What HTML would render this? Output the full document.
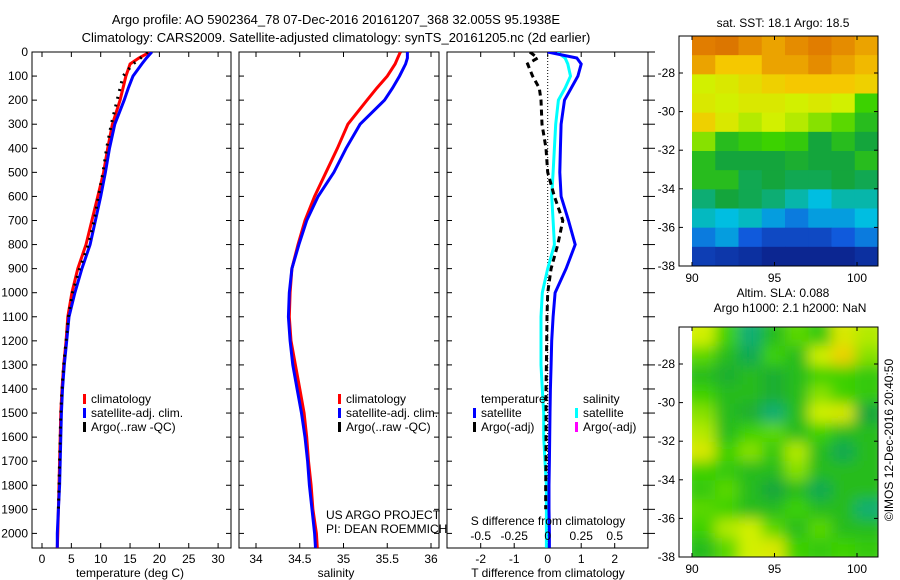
<!DOCTYPE html>
<html><head><meta charset="utf-8"><style>
html,body{margin:0;padding:0;background:#fff;}
svg{display:block;font-family:"Liberation Sans",sans-serif;}
</style></head><body>
<svg id="fig" width="900" height="580" viewBox="0 0 900 580">
<defs>
<filter id="blur" x="0" y="0" width="1" height="1"><feGaussianBlur stdDeviation="7"/></filter>
<clipPath id="clipBot"><rect x="692" y="327" width="186" height="230"/></clipPath>
<clipPath id="p1"><rect x="32" y="52" width="199" height="496"/></clipPath>
<clipPath id="p2"><rect x="239" y="52" width="200" height="496"/></clipPath>
<clipPath id="p3"><rect x="447" y="52" width="201" height="496"/></clipPath>
</defs>
<text x="336" y="24" font-size="13" text-anchor="middle">Argo profile: AO 5902364_78 07-Dec-2016 20161207_368 32.005S 95.1938E</text>
<text x="336" y="42" font-size="13" text-anchor="middle">Climatology: CARS2009. Satellite-adjusted climatology: synTS_20161205.nc (2d earlier)</text>
<g id="g1"></g>
<g id="g2"></g>
<g id="g3"></g>
<g id="m1"></g>
<g id="m2"></g>
</svg>
<script>
const depths=[0,25,50,100,150,200,300,400,500,600,700,800,900,1000,1100,1200,1300,1400,1500,1600,1700,1800,1900,2000,2060];
const tempClim=[18.4,16.5,15,14.3,13.8,13.3,12,11.2,10.5,9.5,8.5,7.5,6.1,5.1,4.4,4.1,3.7,3.4,3.2,3.1,3.0,2.9,2.8,2.7,2.6];
const tempSat=[18.7,17.8,17,15.5,14.7,14,12.4,11.5,10.8,10,9.1,8.2,6.8,5.6,4.6,4.2,3.8,3.5,3.3,3.2,3.1,3.0,2.8,2.6,2.6];
const tempArgo=[18,16.8,15.5,13.8,13.3,12.8,11.8,11,10.4,9.6,8.9,7.9,6.4,5.2,4.5,4.1,3.7,3.4,3.2,3.1,3.0,2.9,2.8,null,null];
const salClim=[35.65,35.62,35.59,35.5,35.38,35.27,35.05,34.93,34.8,34.67,34.56,34.48,34.41,34.39,34.38,34.4,34.45,34.5,34.55,34.58,34.6,34.63,34.65,34.69,34.7];
const salSat=[35.73,35.73,35.71,35.64,35.56,35.47,35.19,35.03,34.89,34.71,34.58,34.49,34.41,34.38,34.37,34.39,34.42,34.47,34.52,34.56,34.59,34.61,34.64,34.67,34.68];
const tDiffSat=[0,0.87,1.0,0.9,0.7,0.5,0.4,0.38,0.36,0.4,0.62,0.82,0.55,0.22,0.16,0.12,0.1,0.08,0.07,0.06,0.05,0.04,0.04,0.05,0.05];
const sDiffSat=[0.07,0.13,0.15,0.17,0.13,0.08,0.06,0.05,0.04,0.03,0.04,0.05,0.0,-0.04,-0.05,-0.05,-0.05,-0.04,-0.03,-0.03,-0.02,-0.01,-0.01,-0.01,-0.01];
const tDiffArgo=[-0.53,-0.3,-0.6,-0.45,-0.25,-0.2,-0.17,-0.05,0.0,0.2,0.45,0.3,0.1,0.0,-0.02,-0.03,-0.04,-0.05,-0.05,-0.05,-0.05,-0.06,-0.06,null,null];
const depthTicks=[0,100,200,300,400,500,600,700,800,900,1000,1100,1200,1300,1400,1500,1600,1700,1800,1900,2000];
const tempTicks=[0,5,10,15,20,25,30];
const salTicks=[34,34.5,35,35.5,36];
const tDiffTicks=[-2,-1,0,1,2];
const sDiffTicks=[-0.5,-0.25,0,0.25,0.5];
const sstGrid=[
[0.9,0.92,0.88,0.85,0.88,0.9,0.88,0.85],
[0.85,0.8,0.8,0.85,0.85,0.88,0.85,0.82],
[0.7,0.72,0.75,0.78,0.8,0.8,0.8,0.78],
[0.72,0.7,0.72,0.72,0.7,0.72,0.7,0.6],
[0.78,0.72,0.68,0.7,0.68,0.65,0.62,0.55],
[0.65,0.55,0.58,0.6,0.58,0.5,0.55,0.5],
[0.55,0.5,0.5,0.5,0.52,0.5,0.5,0.55],
[0.55,0.55,0.48,0.5,0.48,0.48,0.5,0.48],
[0.45,0.5,0.48,0.45,0.4,0.35,0.4,0.4],
[0.38,0.35,0.38,0.3,0.25,0.3,0.3,0.35],
[0.25,0.3,0.2,0.15,0.15,0.15,0.2,0.25],
[0.12,0.1,0.08,0.05,0.05,0.05,0.05,0.08]];
const slaGrid=[
[0.7,0.6,0.45,0.55,0.62,0.58,0.72,0.68],
[0.62,0.55,0.48,0.6,0.55,0.7,0.78,0.65],
[0.55,0.52,0.55,0.52,0.55,0.6,0.6,0.58],
[0.6,0.55,0.55,0.52,0.55,0.65,0.6,0.58],
[0.65,0.55,0.52,0.45,0.55,0.7,0.72,0.5],
[0.68,0.55,0.6,0.62,0.55,0.6,0.55,0.55],
[0.72,0.6,0.65,0.58,0.68,0.55,0.48,0.55],
[0.6,0.58,0.55,0.55,0.65,0.55,0.55,0.55],
[0.58,0.62,0.55,0.5,0.55,0.48,0.55,0.55],
[0.62,0.6,0.55,0.55,0.6,0.55,0.55,0.45],
[0.6,0.68,0.7,0.62,0.55,0.62,0.55,0.55],
[0.55,0.62,0.7,0.72,0.6,0.58,0.6,0.58]];
const lonTicks=[90,95,100];
const latTicks=[-28,-30,-32,-34,-36,-38];

const NS='http://www.w3.org/2000/svg';
function mk(parent,tag,attrs,text){const e=document.createElementNS(NS,tag);for(const k in attrs)e.setAttribute(k,attrs[k]);if(text!==undefined)e.textContent=text;parent.appendChild(e);return e;}
const yD=d=>52+d*0.2407;
const xT=v=>42+v*5.87;
const xS=v=>256+(v-34)*87.5;
const xTd=v=>547.7+v*33.5;
const xSd=v=>547.7+v*134;

function frame(g,x0,x1,clip){
  const r=mk(g,'rect',{x:x0,y:52,width:x1-x0,height:496,fill:'#fff',stroke:'#000','stroke-width':1});
  
  depthTicks.forEach(d=>{
    mk(g,'line',{x1:x0,x2:x0+5,y1:yD(d),y2:yD(d),stroke:'#000'});
    mk(g,'line',{x1:x1,x2:x1-5,y1:yD(d),y2:yD(d),stroke:'#000'});
  });
}
function line(g,xs,vals,color,dash,clip,name){
  let d='';let pen=false;
  vals.forEach((v,i)=>{if(v===null){pen=false;return;}d+=(pen?'L':'M')+xs(v).toFixed(1)+','+yD(depths[i]).toFixed(1);pen=true;});
  const p=mk(g,'path',{d:d,fill:'none',stroke:color,'stroke-width':3,'clip-path':'url(#'+clip+')'});
  if(dash)p.setAttribute('stroke-dasharray',dash);
  
  
}
function xaxis(g,ticks,xs,fmt,y){
  ticks.forEach(t=>{mk(g,'line',{x1:xs(t),x2:xs(t),y1:548,y2:543,stroke:'#000'});mk(g,'line',{x1:xs(t),x2:xs(t),y1:52,y2:57,stroke:'#000'});
    const tx=mk(g,'text',{x:xs(t),y:y,'font-size':12,'text-anchor':'middle'},fmt(t));
    });
}
function legendItem(g,x,y,color,label){
  mk(g,'rect',{x:x,y:y-9,width:3,height:10,fill:color});
  const t=mk(g,'text',{x:x+8,y:y,'font-size':12},label);
  
}
// Panel 1
const g1=document.getElementById('g1');
frame(g1,32,231);
depthTicks.forEach(d=>{const t=mk(g1,'text',{x:28,y:yD(d)+4,'font-size':12,'text-anchor':'end'},String(d));});
xaxis(g1,tempTicks,xT,String,563);
line(g1,xT,tempClim,'#f00',null,'p1','temp-climatology-line');
line(g1,xT,tempSat,'#00f',null,'p1','temp-satellite-line');
line(g1,xT,tempArgo,'#000','2,6','p1','temp-argo-line');
let t1=mk(g1,'text',{x:130,y:577,'font-size':12,'text-anchor':'middle'},'temperature (deg C)');
legendItem(g1,83,403,'#f00','climatology');legendItem(g1,83,417,'#00f','satellite-adj. clim.');legendItem(g1,83,431,'#000','Argo(..raw -QC)');
// Panel 2
const g2=document.getElementById('g2');
frame(g2,239,439);
xaxis(g2,salTicks,xS,String,563);
line(g2,xS,salClim,'#f00',null,'p2','sal-climatology-line');
line(g2,xS,salSat,'#00f',null,'p2','sal-satellite-line');
let t2=mk(g2,'text',{x:336,y:577,'font-size':12,'text-anchor':'middle'},'salinity');
legendItem(g2,338,403,'#f00','climatology');legendItem(g2,338,417,'#00f','satellite-adj. clim.');legendItem(g2,338,431,'#000','Argo(..raw -QC)');
let c1=mk(g2,'text',{x:326,y:519,'font-size':12},'US ARGO PROJECT');
let c2=mk(g2,'text',{x:326,y:533,'font-size':12},'PI: DEAN ROEMMICH');
// Panel 3
const g3=document.getElementById('g3');
frame(g3,447,648);
depthTicks.forEach(d=>mk(g3,'line',{x1:648,x2:655,y1:yD(d),y2:yD(d),stroke:'#000'}));
xaxis(g3,tDiffTicks,xTd,String,563);
mk(g3,'line',{x1:547.7,x2:547.7,y1:52,y2:548,stroke:'#000','stroke-dasharray':'1,2'});
line(g3,xSd,sDiffSat,'#0ff',null,'p3','sal-diff-satellite-line');
line(g3,xTd,tDiffSat,'#00f',null,'p3','temp-diff-satellite-line');
line(g3,xTd,tDiffArgo,'#000','6,4','p3','temp-diff-argo-line');
sDiffTicks.forEach(t=>{const tx=mk(g3,'text',{x:xSd(t),y:540,'font-size':12,'text-anchor':'middle'},String(t));});
let t3=mk(g3,'text',{x:548,y:525,'font-size':12,'text-anchor':'middle'},'S difference from climatology');
let t4=mk(g3,'text',{x:548,y:577,'font-size':12,'text-anchor':'middle'},'T difference from climatology');
let l1=mk(g3,'text',{x:481,y:403,'font-size':12},'temperature');
let l2=mk(g3,'text',{x:583,y:403,'font-size':12},'salinity');
legendItem(g3,473,417,'#00f','satellite');legendItem(g3,473,431,'#000','Argo(-adj)');
legendItem(g3,575,417,'#0ff','satellite');legendItem(g3,575,431,'#f0f','Argo(-adj)');
// Maps
const stops=[[0,[10,20,120]],[0.2,[16,90,220]],[0.35,[0,190,225]],[0.5,[20,165,60]],[0.6,[60,210,0]],[0.7,[210,240,0]],[0.8,[245,200,0]],[0.9,[225,125,0]],[1,[200,90,0]]];
function cmap(v){for(let i=1;i<stops.length;i++){if(v<=stops[i][0]){const a=stops[i-1],b=stops[i];const f=(v-a[0])/(b[0]-a[0]);return 'rgb('+a[1].map((c,j)=>Math.round(c+(b[1][j]-c)*f)).join(',')+')';}}return 'rgb(200,90,0)';}
function map(gid,top,grid,blur,title1,title2){
  const g=document.getElementById(gid);
  const bot=top+230; const lx=v=>692+(v-90)*16.5; const ly=v=>top+37+(-28-v)*(193/10);
  const cells=mk(g,'g',blur?{filter:'url(#blur)','clip-path':'url(#clipBot)'}:{});
  const rows=grid.length,cols=grid[0].length,cw=186/cols,ch=230/rows;
  grid.forEach((row,r)=>row.forEach((v,c)=>{
    const ex=blur?6:0;
    const cell=mk(cells,'rect',{x:692+c*cw-(blur&&c==0?10:0),y:top+r*ch-(blur&&r==0?10:0),width:cw+0.5+(blur&&(c==0||c==cols-1)?10:0),height:ch+0.5+(blur&&(r==0||r==rows-1)?10:0),fill:cmap(v)});
    
    
  }));
  mk(g,'rect',{x:679,y:top,width:199,height:230,fill:'none',stroke:'#000'});
  lonTicks.forEach(t=>{mk(g,'line',{x1:lx(t),x2:lx(t),y1:bot,y2:bot-4,stroke:'#000'});mk(g,'line',{x1:lx(t),x2:lx(t),y1:top,y2:top+4,stroke:'#000'});
    const tx=mk(g,'text',{x:lx(t),y:bot+16,'font-size':12,'text-anchor':'middle'},String(t));});
  latTicks.forEach(t=>{mk(g,'line',{x1:679,x2:683,y1:ly(t),y2:ly(t),stroke:'#000'});mk(g,'line',{x1:878,x2:874,y1:ly(t),y2:ly(t),stroke:'#000'});
    const tx=mk(g,'text',{x:675,y:ly(t)+4,'font-size':12,'text-anchor':'end'},String(t));});
  const a=mk(g,'text',{x:783,y:title2?top-30:top-9,'font-size':12,'text-anchor':'middle'},title1);
  if(title2){const b=mk(g,'text',{x:790,y:top-15,'font-size':12,'text-anchor':'middle'},title2);}
}
map('m1',36,sstGrid,false,'sat. SST: 18.1 Argo: 18.5');
map('m2',327,slaGrid,true,'Altim. SLA: 0.088','Argo h1000: 2.1 h2000: NaN');
const cp=mk(document.getElementById('m2'),'text',{x:0,y:0,'font-size':12,'text-anchor':'middle',transform:'translate(893,440) rotate(-90)'},'©IMOS 12-Dec-2016 20:40:50');


</script>
</body></html>
